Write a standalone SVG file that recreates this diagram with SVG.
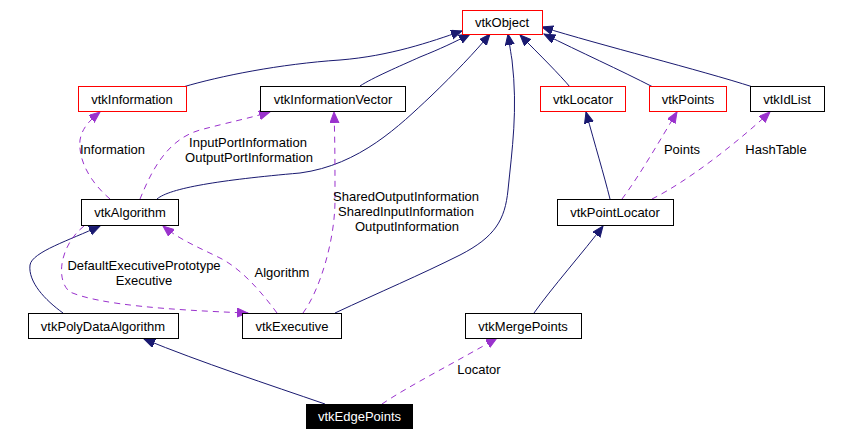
<svg xmlns="http://www.w3.org/2000/svg" width="842" height="436" viewBox="0 0 842 436">
<style>
text{font-family:"Liberation Sans",Arial,sans-serif;font-size:13px;fill:#000}
.n{text-anchor:middle}
.box{fill:#fff;stroke:#000;stroke-width:1}
.red{fill:#fff;stroke:#ff0000;stroke-width:1}
.inh{fill:none;stroke:#191970;stroke-width:1;marker-end:url(#an)}
.use{fill:none;stroke:#9a32cd;stroke-width:1;stroke-dasharray:6,5;marker-end:url(#ap)}
</style>
<defs>
<marker id="an" markerUnits="userSpaceOnUse" markerWidth="12" markerHeight="10" refX="11" refY="4.5" orient="auto"><path d="M0,0 L11,4.5 L0,9 z" fill="#191970" stroke="#191970"/></marker>
<marker id="ap" markerUnits="userSpaceOnUse" markerWidth="12" markerHeight="10" refX="11" refY="4.5" orient="auto"><path d="M0,0 L11,4.5 L0,9 z" fill="#9a32cd" stroke="#9a32cd"/></marker>
</defs>
<rect width="842" height="436" fill="#fff"/>
<g id="connectors">
<path class="inh" d="M183,87 C220,76 280,64 340,60 C390,56 430,42 462,31"/>
<path class="inh" d="M360,86 C372,78 400,66 420,57 C440,49 455,42 470,34"/>
<path class="inh" d="M157,199 C170,188 220,180 300,173 C360,165 400,125 430,97 C455,73 475,52 490,34"/>
<path class="inh" d="M335,313 C380,292 420,275 460,255 C495,237 505,220 508,190 C512,150 518,110 512,60 C510,48 509,40 508,34"/>
<path class="inh" d="M570,87 C560,75 540,55 520,35"/>
<path class="inh" d="M653,87 C620,70 580,52 544,34"/>
<path class="inh" d="M753,87 C700,70 600,45 542,27"/>
<path class="inh" d="M610,199 C604,175 595,145 586,112"/>
<path class="inh" d="M534,313 C550,290 585,250 603,226"/>
<path class="inh" d="M325,404 C270,385 200,362 144,339"/>
<path class="inh" d="M63,313 C45,300 28,282 30,265 C32,252 70,240 100,226"/>
<path class="use" d="M622,199 C640,175 660,140 677,112"/>
<path class="use" d="M652,199 C690,180 740,140 770,112"/>
<path class="use" d="M382,404 C410,385 460,360 497,338"/>
<path class="use" d="M84,226 C60,245 55,280 70,292 C100,305 170,310 248,313"/>
<path class="use" d="M277,313 C260,290 240,268 220,258 C200,248 180,240 163,226"/>
<path class="use" d="M303,313 C320,290 335,240 335,200 C335,170 335,140 334,112"/>
<path class="use" d="M110,199 C90,182 78,160 80,140 C82,128 90,120 100,112"/>
<path class="use" d="M140,199 C150,175 165,140 200,130 C230,122 250,118 270,112"/>
<text x="80" y="154">Information</text>
<text class="n" x="248" y="147">InputPortInformation</text>
<text class="n" x="249" y="162">OutputPortInformation</text>
<text class="n" x="406" y="201">SharedOutputInformation</text>
<text class="n" x="406" y="216">SharedInputInformation</text>
<text class="n" x="407" y="231">OutputInformation</text>
<text class="n" x="682" y="154">Points</text>
<text class="n" x="776" y="154">HashTable</text>
<text class="n" x="144" y="270">DefaultExecutivePrototype</text>
<text class="n" x="144" y="285">Executive</text>
<text class="n" x="282" y="277">Algorithm</text>
<text class="n" x="479" y="374">Locator</text>
</g>
<g id="vtkObject"><rect class="red" x="462.5" y="10.5" width="80" height="24"/><text class="n" x="502" y="27">vtkObject</text></g>
<g id="vtkInformation"><rect class="red" x="78.5" y="86.5" width="108" height="25"/><text class="n" x="132" y="104">vtkInformation</text></g>
<g id="vtkInformationVector"><rect class="box" x="260.5" y="86.5" width="145" height="25"/><text class="n" x="333" y="104">vtkInformationVector</text></g>
<g id="vtkLocator"><rect class="red" x="540.5" y="86.5" width="85" height="25"/><text class="n" x="583" y="104">vtkLocator</text></g>
<g id="vtkPoints"><rect class="red" x="649.5" y="86.5" width="77" height="25"/><text class="n" x="688" y="104">vtkPoints</text></g>
<g id="vtkIdList"><rect class="box" x="750.5" y="86.5" width="74" height="25"/><text class="n" x="787" y="104">vtkIdList</text></g>
<g id="vtkAlgorithm"><rect class="box" x="81.5" y="199.5" width="97" height="26"/><text class="n" x="130" y="217">vtkAlgorithm</text></g>
<g id="vtkPointLocator"><rect class="box" x="557.5" y="199.5" width="116" height="26"/><text class="n" x="615" y="217">vtkPointLocator</text></g>
<g id="vtkPolyDataAlgorithm"><rect class="box" x="28.5" y="313.5" width="150" height="25"/><text class="n" x="103" y="331">vtkPolyDataAlgorithm</text></g>
<g id="vtkExecutive"><rect class="box" x="242.5" y="313.5" width="99" height="25"/><text class="n" x="292" y="331">vtkExecutive</text></g>
<g id="vtkMergePoints"><rect class="box" x="465.5" y="313.5" width="116" height="25"/><text class="n" x="523" y="331">vtkMergePoints</text></g>
<g id="vtkEdgePoints"><rect x="306" y="404" width="107" height="25" fill="#000"/><text class="n" x="359.5" y="421" style="fill:#fff">vtkEdgePoints</text></g>
</svg>
